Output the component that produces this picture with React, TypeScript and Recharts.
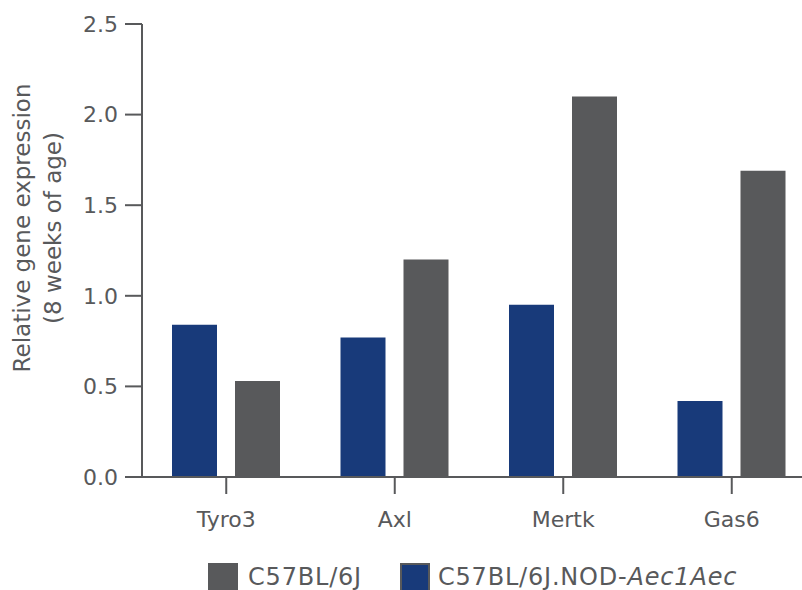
import React from 'react';
import { BarChart, Bar, XAxis, YAxis } from 'recharts';

const genes = ['Tyro3', 'Axl', 'Mertk', 'Gas6'];
const nodValues = [0.84, 0.77, 0.95, 0.42];
const b6Values = [0.53, 1.2, 2.1, 1.69];
const yTicks = [0, 0.5, 1.0, 1.5, 2.0, 2.5];

const data = genes.map((g, i) => ({ name: g, nod: nodValues[i], b6: b6Values[i] }));

const GRAY = '#58595b';
const BLUE = '#183a7a';
const FONT = '"DejaVu Sans", sans-serif';

const YLabel = () => (
  <g fill={GRAY} fontSize={23} fontFamily={FONT}>
    <text transform="translate(30,228) rotate(-90)" textAnchor="middle">Relative gene expression</text>
    <text transform="translate(61,228) rotate(-90)" textAnchor="middle">(8 weeks of age)</text>
  </g>
);

export default function App() {
  return (
    <div style={{ position: 'absolute', left: 0, top: 0, width: 802, height: 590, overflow: 'hidden', background: '#fff', fontFamily: FONT }}>
      <BarChart width={830} height={540} data={data} margin={{ top: 24, right: 14, left: 0, bottom: 0 }} barSize={45} barGap={18}>
        <XAxis
          dataKey="name"
          height={63}
          tickSize={17}
          tickMargin={17}
          stroke={GRAY}
          strokeWidth={2}
          tick={{ fill: GRAY, fontSize: 22, fontFamily: FONT }}
        />
        <YAxis
          domain={[0, 2.5]}
          ticks={yTicks}
          width={142}
          tickSize={17}
          tickMargin={7}
          stroke={GRAY}
          strokeWidth={2}
          tickFormatter={(v: number) => v.toFixed(1)}
          tick={{ fill: GRAY, fontSize: 22, fontFamily: FONT }}
          label={{ content: () => <YLabel /> }}
        />
        <Bar dataKey="nod" name="C57BL/6J.NOD-Aec1Aec" fill={BLUE} isAnimationActive={false} />
        <Bar dataKey="b6" name="C57BL/6J" fill={GRAY} isAnimationActive={false} />
      </BarChart>
      <div style={{ position: 'absolute', top: 562, left: 208, display: 'flex', alignItems: 'flex-start', color: GRAY, fontSize: 24, lineHeight: '30px', letterSpacing: 0.8, whiteSpace: 'nowrap' }}>
        <span style={{ width: 30, height: 30, marginTop: 1, background: GRAY, display: 'inline-block' }} />
        <span style={{ marginLeft: 10 }}>C57BL/6J</span>
        <span style={{ width: 26, height: 26, marginTop: 1, marginLeft: 38, background: BLUE, border: `2px solid ${GRAY}`, display: 'inline-block' }} />
        <span style={{ marginLeft: 8 }}>C57BL/6J.NOD-<i>Aec1Aec</i></span>
      </div>
    </div>
  );
}
